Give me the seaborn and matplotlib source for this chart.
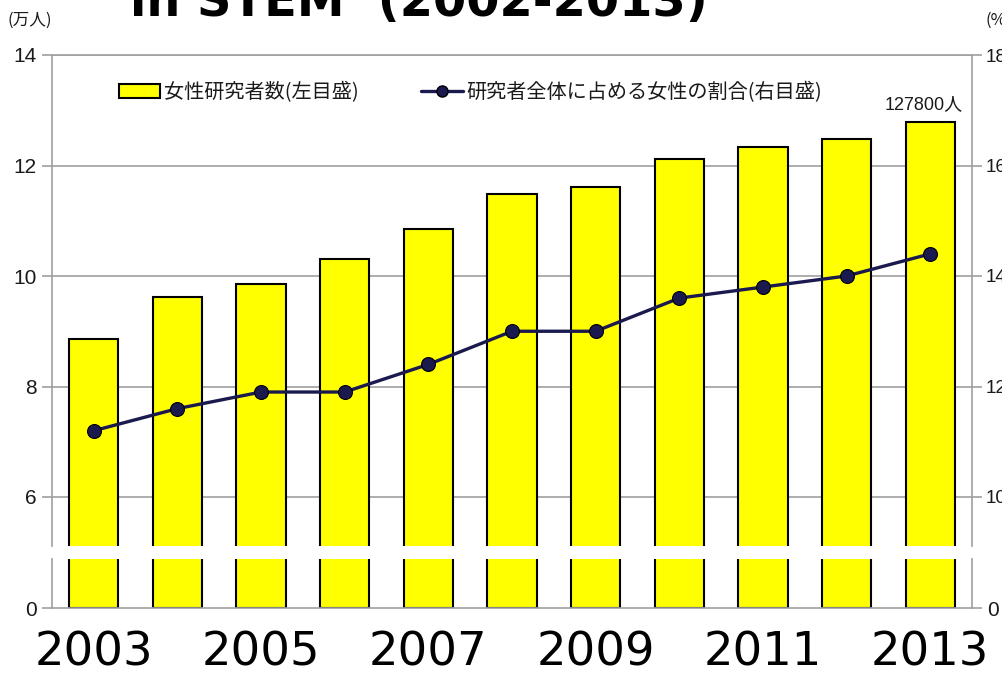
import seaborn as sns
import matplotlib.pyplot as plt
from matplotlib.lines import Line2D
from matplotlib.patches import Patch

sns.set_theme(style='white')

# Data
years = ['2003', '2004', '2005', '2006', '2007', '2008',
         '2009', '2010', '2011', '2012', '2013']
researchers = [8.86, 9.62, 9.86, 10.31, 10.85, 11.48,
               11.61, 12.12, 12.33, 12.48, 12.78]   # 万人
ratio = [11.2, 11.6, 11.9, 11.9, 12.4, 13.0,
         13.0, 13.6, 13.8, 14.0, 14.4]              # %
left_ticks = [6, 8, 10, 12, 14]
right_ticks = [10, 12, 14, 16, 18]
shown_years = ['2003', '2005', '2007', '2009', '2011', '2013']
bar_label = '女性研究者数(左目盛)'
line_label = '研究者全体に占める女性の割合(右目盛)'
last_label = '127800人'

# Fonts
tick_font = 'Liberation Sans'
jp = ['Noto Sans CJK JP', 'DejaVu Sans']
plt.rcParams['font.family'] = jp

yellow = '#FFFF00'
navy = '#1a1a4e'
grey = '#a0a0a0'
ink = '#1a1a1a'

fig = plt.figure(figsize=(10.03, 6.74), dpi=100)
x0, w = 52 / 1003, 920 / 1003
ax_top = fig.add_axes([x0, 1 - 546 / 674, w, 491 / 674])
ax_bot = fig.add_axes([x0, 1 - 608 / 674, w, 49 / 674])

# Bars in both segments of the broken axis
for ax in (ax_top, ax_bot):
    sns.barplot(x=years, y=researchers, color=yellow, saturation=1,
                edgecolor='black', linewidth=1.5, width=0.59, ax=ax)
    ax.set_xlim(-0.5, 10.5)
    ax.set_xlabel('')
    ax.set_ylabel('')
    for s in ax.spines.values():
        s.set_color(grey)
        s.set_linewidth(1.2)

lo_top = 6 - 49 / 55.25
ax_top.set_ylim(lo_top, 14)
ax_top.set_yticks(left_ticks)
ax_top.set_xticks([])
ax_top.spines['bottom'].set_visible(False)
ax_top.spines['right'].set_visible(False)
ax_top.yaxis.grid(True, color=grey, linewidth=1.2)
ax_top.set_axisbelow(True)

ax_bot.set_ylim(0, 49 / 55.25)
ax_bot.set_yticks([0])
ax_bot.spines['top'].set_visible(False)
ax_bot.set_xticks(range(len(years)))
ax_bot.set_xticklabels([y if y in shown_years else '' for y in years],
                       fontsize=33.5, family='DejaVu Sans', color='black')
ax_bot.tick_params(axis='x', length=0, pad=16)
ax_bot.tick_params(axis='y', right=True, labelright=True)

# Line on the right axis
ax_r = ax_top.twinx()
sns.pointplot(x=years, y=ratio, color=navy, errorbar=None, markers='o',
              markersize=10, linewidth=2.4, markeredgecolor='black',
              markeredgewidth=0.8, ax=ax_r)
ax_r.set_xlim(-0.5, 10.5)
ax_r.set_ylim(lo_top + 4, 18)
ax_r.set_yticks(right_ticks)
ax_r.set_xlabel('')
ax_r.set_ylabel('')
for k, s in ax_r.spines.items():
    s.set_visible(k == 'right')
    s.set_color(grey)
    s.set_linewidth(1.2)

for ax in (ax_top, ax_bot, ax_r):
    ax.tick_params(axis='y', which='both', direction='out', length=7,
                   width=1.2, color=grey, labelsize=15, pad=4,
                   labelcolor=ink)
    for lab in ax.get_yticklabels():
        lab.set_family(tick_font)
ax_bot.tick_params(axis='y', left=True, right=True)
# right-hand labels sit at the very edge, keep them a touch smaller
ax_r.tick_params(axis='y', labelsize=13.5, pad=3)
ax_bot.tick_params(axis='y', labelright=True)

ax_r.annotate(last_label, xy=(10, researchers[-1] + 4), xytext=(-5, 7),
              textcoords='offset points', ha='center', va='bottom',
              fontsize=13, family=[tick_font, 'Noto Sans CJK JP'],
              color=ink)

handles = [Patch(facecolor=yellow, edgecolor='black', linewidth=1.5),
           Line2D([], [], color=navy, marker='o', markersize=8,
                  markeredgecolor='black', linewidth=2.4)]
fig.legend(handles, [bar_label, line_label], loc='upper left',
           bbox_to_anchor=(119 / 1003, 1 - 82 / 674), ncol=2,
           frameon=False, fontsize=14.5, borderpad=0, borderaxespad=0,
           handlelength=2.05, handletextpad=0.2, columnspacing=3.1,
           labelcolor=ink)

# Cropped title and unit labels
fig.text(130 / 1003, 1 - 16 / 674, 'in STEM  (2002-2013)', fontsize=34.5,
         fontweight='bold', family='DejaVu Sans', va='baseline', ha='left',
         color='black')
fig.text(8 / 1003, 1 - 20 / 674, '(万人)', fontsize=12, va='center',
         color=ink)
fig.text(986 / 1003, 1 - 20 / 674, '(%)', fontsize=12, va='center',
         color=ink)

fig.savefig('out.png', dpi=100)
